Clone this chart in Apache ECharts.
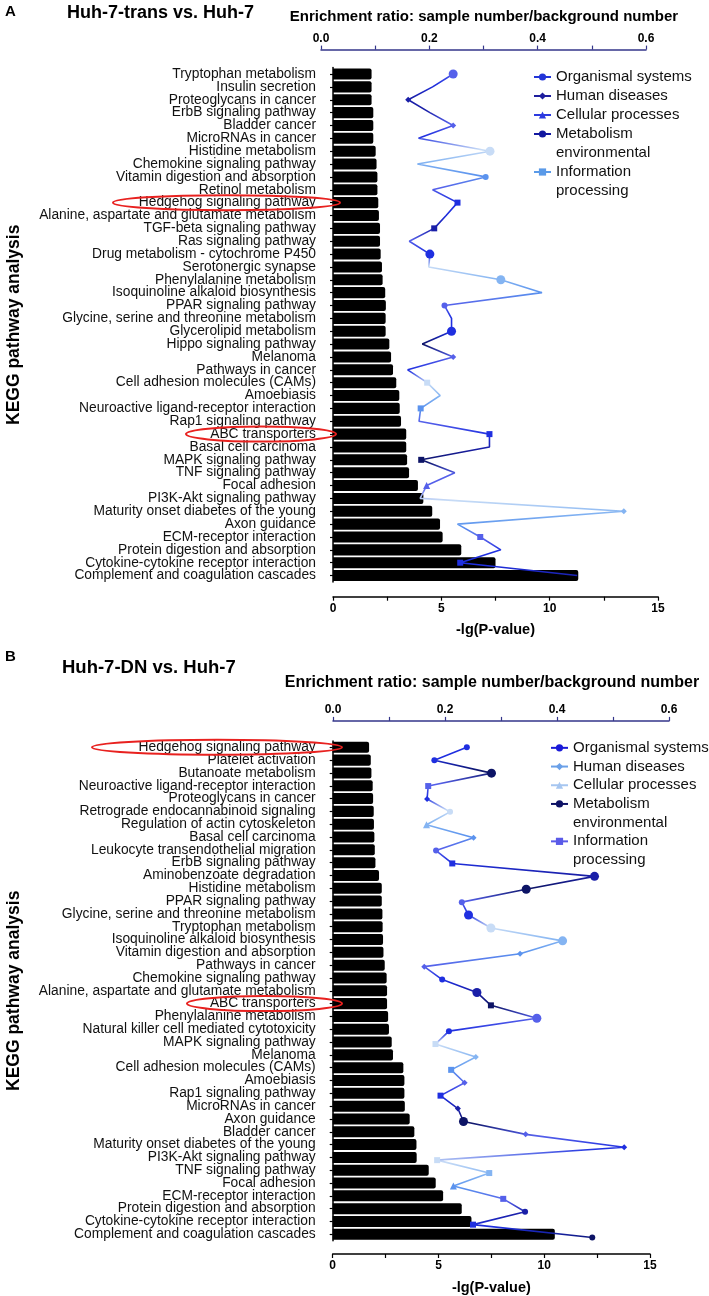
<!DOCTYPE html>
<html>
<head>
<meta charset="utf-8">
<script src="https://cdn.jsdelivr.net/npm/echarts@6.0.0/dist/echarts.min.js"></script>
<style>
  html, body { margin: 0; padding: 0; background: #fff; }
  #main { width: 709px; height: 1296px; }
</style>
</head>
<body>
<div id="main"></div>
<script>
// ---- panel A: Huh-7-trans vs. Huh-7 ----
const pathwaysA = [
  'Tryptophan metabolism', 'Insulin secretion', 'Proteoglycans in cancer', 'ErbB signaling pathway',
  'Bladder cancer', 'MicroRNAs in cancer', 'Histidine metabolism', 'Chemokine signaling pathway',
  'Vitamin digestion and absorption', 'Retinol metabolism', 'Hedgehog signaling pathway',
  'Alanine, aspartate and glutamate metabolism', 'TGF-beta signaling pathway', 'Ras signaling pathway',
  'Drug metabolism - cytochrome P450', 'Serotonergic synapse', 'Phenylalanine metabolism',
  'Isoquinoline alkaloid biosynthesis', 'PPAR signaling pathway', 'Glycine, serine and threonine metabolism',
  'Glycerolipid metabolism', 'Hippo signaling pathway', 'Melanoma', 'Pathways in cancer',
  'Cell adhesion molecules (CAMs)', 'Amoebiasis', 'Neuroactive ligand-receptor interaction',
  'Rap1 signaling pathway', 'ABC transporters', 'Basal cell carcinoma', 'MAPK signaling pathway',
  'TNF signaling pathway', 'Focal adhesion', 'PI3K-Akt signaling pathway',
  'Maturity onset diabetes of the young', 'Axon guidance', 'ECM-receptor interaction',
  'Protein digestion and absorption', 'Cytokine-cytokine receptor interaction',
  'Complement and coagulation cascades'
];
const logPA = [
  1.78, 1.78, 1.78, 1.86, 1.86, 1.86, 1.97, 2.01, 2.05, 2.05,
  2.09, 2.12, 2.17, 2.17, 2.20, 2.26, 2.29, 2.41, 2.44, 2.43,
  2.43, 2.60, 2.68, 2.77, 2.92, 3.06, 3.08, 3.14, 3.38, 3.38,
  3.42, 3.51, 3.92, 4.17, 4.58, 4.94, 5.06, 5.92, 7.50, 11.32
];
const ratioA = [
  0.244, 0.206, 0.161, 0.201, 0.244, 0.180, 0.312, 0.178, 0.304, 0.206,
  0.252, 0.231, 0.209, 0.163, 0.201, 0.199, 0.332, 0.408, 0.228, 0.241,
  0.241, 0.187, 0.244, 0.160, 0.196, 0.220, 0.184, 0.181, 0.311, 0.311,
  0.185, 0.247, 0.195, 0.183, 0.559, 0.252, 0.294, 0.332, 0.257, 0.473
];
// O organismal, H human diseases, C cellular, M metabolism, E environmental information processing
const groupA = [
  'M','O','H','E','H','H','M','O','O','M',
  'E','M','E','E','M','O','M','M','O','M',
  'M','E','H','H','E','H','E','E','E','H',
  'E','E','C','E','H','O','E','O','E','M'
];

// ---- panel B: Huh-7-DN vs. Huh-7 ----
const pathwaysB = [
  'Hedgehog signaling pathway', 'Platelet activation', 'Butanoate metabolism',
  'Neuroactive ligand-receptor interaction', 'Proteoglycans in cancer',
  'Retrograde endocannabinoid signaling', 'Regulation of actin cytoskeleton', 'Basal cell carcinoma',
  'Leukocyte transendothelial migration', 'ErbB signaling pathway', 'Aminobenzoate degradation',
  'Histidine metabolism', 'PPAR signaling pathway', 'Glycine, serine and threonine metabolism',
  'Tryptophan metabolism', 'Isoquinoline alkaloid biosynthesis', 'Vitamin digestion and absorption',
  'Pathways in cancer', 'Chemokine signaling pathway', 'Alanine, aspartate and glutamate metabolism',
  'ABC transporters', 'Phenylalanine metabolism', 'Natural killer cell mediated cytotoxicity',
  'MAPK signaling pathway', 'Melanoma', 'Cell adhesion molecules (CAMs)', 'Amoebiasis',
  'Rap1 signaling pathway', 'MicroRNAs in cancer', 'Axon guidance', 'Bladder cancer',
  'Maturity onset diabetes of the young', 'PI3K-Akt signaling pathway', 'TNF signaling pathway',
  'Focal adhesion', 'ECM-receptor interaction', 'Protein digestion and absorption',
  'Cytokine-cytokine receptor interaction', 'Complement and coagulation cascades'
];
const logPB = [
  1.72, 1.80, 1.83, 1.89, 1.91, 1.94, 1.95, 1.97, 1.99, 2.02,
  2.19, 2.32, 2.32, 2.35, 2.36, 2.38, 2.40, 2.46, 2.55, 2.57,
  2.57, 2.62, 2.66, 2.79, 2.85, 3.34, 3.39, 3.39, 3.41, 3.64,
  3.86, 3.96, 3.97, 4.54, 4.87, 5.22, 6.10, 6.56, 10.50
];
const ratioB = [
  0.239, 0.181, 0.283, 0.170, 0.168, 0.209, 0.167, 0.251, 0.184, 0.213,
  0.467, 0.345, 0.230, 0.242, 0.282, 0.410, 0.334, 0.163, 0.195, 0.257,
  0.282, 0.364, 0.207, 0.183, 0.255, 0.211, 0.235, 0.192, 0.223, 0.233,
  0.344, 0.520, 0.186, 0.279, 0.215, 0.304, 0.343, 0.250, 0.463
];
const groupB = [
  'O','O','M','E','H','O','C','H','O','E',
  'M','M','O','M','M','M','H','H','O','M',
  'E','M','O','E','H','E','H','E','H','M',
  'H','H','E','E','C','E','O','E','O'
];

const groupOrder = ['O', 'H', 'C', 'M', 'E'];
const groupNames = {
  O: 'Organismal systems',
  H: 'Human diseases',
  C: 'Cellular processes',
  M: 'Metabolism',
  E: 'environmental\nInformation\nprocessing'
};
const highlighted = ['Hedgehog signaling pathway', 'ABC transporters'];

// ---- styles ----
const tones = ['#0d1466', '#1a1fa8', '#1f2fe0', '#5560ea', '#5b93ee', '#84b4f2', '#c8dcf6'];
const toneA = [3,2,1,1,3,2,6,5,4,3, 2,2,1,3,2,6,5,4,3,2, 2,0,3,2,6,5,4,3,2,1, 0,3,3,6,5,4,3,2,2,1];
const toneB = [2,2,0,3,2,6,5,4,3,2, 1,0,3,2,6,5,4,3,2,1, 0,3,2,6,5,4,3,2,1,0, 3,2,6,5,4,3,1,2,0];
const shape = { O: 'circle', H: 'diamond', C: 'triangle', M: 'circle', E: 'rect' };
const shapeSize = { O: 6, H: 6, C: 7, M: 9, E: 6 };
const legendColorA = { O: '#2235d8', H: '#1e1e9e', C: '#2c3be0', M: '#1218a0', E: '#5a9ae8' };
const legendColorB = { O: '#1a1ad8', H: '#6aa0e8', C: '#a6c6f0', M: '#0e1266', E: '#5a5ae8' };

const SANS = "'Liberation Sans', Arial, sans-serif";

const chart = echarts.init(document.getElementById('main'));

function lineData(vals, groups, tone) {
  return vals.map((v, i) => ({
    value: v,
    symbol: shape[groups[i]],
    symbolSize: shapeSize[groups[i]],
    itemStyle: { color: tones[tone[i]] }
  }));
}

function lineGradient(tone) {
  return new echarts.graphic.LinearGradient(0, 0, 0, 1,
    tone.map((t, i) => ({ offset: i / (tone.length - 1), color: tones[t] })));
}

function legendSeries(prefix, colors, xi, yi) {
  return groupOrder.map(g => ({
    type: 'line',
    name: prefix + groupNames[g],
    xAxisIndex: xi,
    yAxisIndex: yi,
    data: [],
    symbol: shape[g],
    symbolSize: shapeSize[g],
    itemStyle: { color: colors[g] },
    lineStyle: { color: colors[g], width: 2 }
  }));
}

function pAxis(gridIndex, offset, gap) {
  return {
    type: 'value', gridIndex: gridIndex, position: 'bottom', offset: offset,
    min: 0, max: 15, interval: 2.5,
    name: '-lg(P-value)', nameLocation: 'middle', nameGap: gap,
    nameTextStyle: { fontFamily: SANS, fontWeight: 'bold', fontSize: 14.5, color: '#000' },
    axisLine: { show: true, lineStyle: { color: '#000', width: 1.5 } },
    axisTick: { show: true, length: 4, lineStyle: { color: '#000', width: 1.2 } },
    axisLabel: {
      fontFamily: SANS, fontWeight: 'bold', fontSize: 12, color: '#000', margin: 6,
      formatter: v => (v % 5 === 0 ? String(v) : '')
    },
    splitLine: { show: false }
  };
}

function ratioAxis(gridIndex, offset) {
  return {
    type: 'value', gridIndex: gridIndex, position: 'top', offset: offset,
    min: 0, max: 0.6, interval: 0.1,
    axisLine: { show: true, lineStyle: { color: '#34368a', width: 1.5 } },
    axisTick: { show: true, length: 4, lineStyle: { color: '#34368a', width: 1.2 } },
    axisLabel: {
      fontFamily: SANS, fontWeight: 'bold', fontSize: 12, color: '#000', margin: 5,
      formatter: v => (Math.round(v * 10) % 2 === 0 ? v.toFixed(1) : '')
    },
    splitLine: { show: false }
  };
}

function pathAxis(gridIndex, cats) {
  return {
    type: 'category', gridIndex: gridIndex, data: cats, inverse: true, offset: 14,
    name: 'KEGG pathway analysis', nameLocation: 'middle', nameGap: 296,
    nameTextStyle: { fontFamily: SANS, fontWeight: 'bold', fontSize: 17.5, color: '#000' },
    axisLine: { show: true, lineStyle: { color: '#000', width: 1.5 } },
    axisTick: { show: true, length: 3, alignWithLabel: true, lineStyle: { color: '#000', width: 1.2 } },
    axisLabel: { fontFamily: SANS, fontSize: 13.8, color: '#111', margin: 3, interval: 0 }
  };
}

function hiddenCats(gridIndex, cats) {
  return { type: 'category', gridIndex: gridIndex, data: cats, inverse: true, show: false };
}

function legendBox(prefix, left, top, lh) {
  return {
    orient: 'vertical', left: left, top: top,
    itemWidth: 17, itemHeight: 9, itemGap: 0,
    data: groupOrder.map(g => prefix + groupNames[g]),
    formatter: n => n.slice(prefix.length),
    textStyle: { fontFamily: SANS, fontSize: 15, lineHeight: lh, color: '#111' },
    selectedMode: false
  };
}

const option = {
  animation: false,
  backgroundColor: '#fff',
  grid: [
    { left: 333, width: 325, top: 67.6, height: 514.4 },
    { left: 321, width: 325, top: 67.6, height: 514.4 },
    { left: 332.7, width: 317.3, top: 740.9, height: 503.1 },
    { left: 333, width: 336, top: 740.9, height: 503.1 }
  ],
  xAxis: [pAxis(0, 14.7, 26), ratioAxis(1, 18), pAxis(2, 13.3, 26), ratioAxis(3, 20)],
  yAxis: [pathAxis(0, pathwaysA), hiddenCats(1, pathwaysA), pathAxis(2, pathwaysB), hiddenCats(3, pathwaysB)],
  legend: [legendBox('A ', 528, 62.5, 19), legendBox('B ', 545, 733.5, 18.7)],
  series: [
    {
      type: 'bar', xAxisIndex: 0, yAxisIndex: 0, data: logPA,
      barCategoryGap: '14%', itemStyle: { color: '#000', borderRadius: [0, 2, 2, 0] }
    },
    {
      type: 'line', xAxisIndex: 1, yAxisIndex: 1, z: 5, data: lineData(ratioA, groupA, toneA),
      lineStyle: { width: 1.6, color: lineGradient(toneA) }
    },
    {
      type: 'bar', xAxisIndex: 2, yAxisIndex: 2, data: logPB,
      barCategoryGap: '14%', itemStyle: { color: '#000', borderRadius: [0, 2, 2, 0] }
    },
    {
      type: 'line', xAxisIndex: 3, yAxisIndex: 3, z: 5, data: lineData(ratioB, groupB, toneB),
      lineStyle: { width: 1.6, color: lineGradient(toneB) }
    }
  ]
    .concat(legendSeries('A ', legendColorA, 1, 1))
    .concat(legendSeries('B ', legendColorB, 3, 3))
};

chart.setOption(option);

// panel letters, titles and the red ellipses round the highlighted pathways
const texts = [
  { x: 5, y: 12, text: 'A', font: 'bold 15px ' + SANS, align: 'left' },
  { x: 67, y: 13, text: 'Huh-7-trans vs. Huh-7', font: 'bold 18px ' + SANS, align: 'left' },
  { x: 484, y: 17, text: 'Enrichment ratio: sample number/background number', font: 'bold 15px ' + SANS, align: 'center' },
  { x: 5, y: 657, text: 'B', font: 'bold 15px ' + SANS, align: 'left' },
  { x: 62, y: 668, text: 'Huh-7-DN vs. Huh-7', font: 'bold 18.5px ' + SANS, align: 'left' },
  { x: 492, y: 683, text: 'Enrichment ratio: sample number/background number', font: 'bold 16px ' + SANS, align: 'center' }
];
const graphics = texts.map(t => ({
  type: 'text', x: t.x, y: t.y,
  style: { text: t.text, font: t.font, fill: '#000', textAlign: t.align, textVerticalAlign: 'middle' }
}));

const ellipseA = { 'Hedgehog signaling pathway': [113, 340], 'ABC transporters': [186, 336] };
const ellipseB = { 'Hedgehog signaling pathway': [92, 342], 'ABC transporters': [187, 342] };
highlighted.forEach(name => {
  [[0, ellipseA], [2, ellipseB]].forEach(([yi, ext]) => {
    const cy = chart.convertToPixel({ yAxisIndex: yi }, name);
    const [x0, x1] = ext[name];
    graphics.push({
      type: 'ellipse', z: 10,
      shape: { cx: (x0 + x1) / 2, cy: cy, rx: (x1 - x0) / 2, ry: 7.5 },
      style: { fill: 'none', stroke: '#e8211f', lineWidth: 2 }
    });
  });
});

chart.setOption({ graphic: graphics });
</script>
</body>
</html>
